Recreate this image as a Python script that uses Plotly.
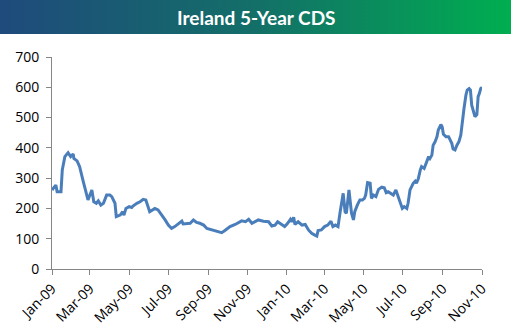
import plotly.graph_objects as go

dates = [
    "2009-01-01", "2009-01-07", "2009-01-09", "2009-01-15", "2009-01-17", "2009-01-21",
    "2009-01-26", "2009-01-30", "2009-02-03", "2009-02-04", "2009-02-09", "2009-02-13",
    "2009-02-18", "2009-02-26", "2009-03-04", "2009-03-07", "2009-03-11", "2009-03-14",
    "2009-03-18", "2009-03-22", "2009-03-27", "2009-04-01", "2009-04-04", "2009-04-09",
    "2009-04-11", "2009-04-17", "2009-04-21", "2009-04-23", "2009-04-26", "2009-05-01",
    "2009-05-05", "2009-05-07", "2009-05-13", "2009-05-18", "2009-05-23", "2009-05-27",
    "2009-06-02", "2009-06-10", "2009-06-15", "2009-06-21", "2009-06-26", "2009-07-01",
    "2009-07-06", "2009-07-11", "2009-07-17", "2009-07-22", "2009-07-24", "2009-07-30",
    "2009-08-04", "2009-08-09", "2009-08-14", "2009-08-19", "2009-08-25", "2009-08-30",
    "2009-09-04", "2009-09-09", "2009-09-17", "2009-09-22", "2009-09-27", "2009-10-05",
    "2009-10-13", "2009-10-18", "2009-10-23", "2009-10-29", "2009-11-03", "2009-11-08",
    "2009-11-13", "2009-11-18", "2009-11-26", "2009-12-04", "2009-12-09", "2009-12-14",
    "2009-12-18", "2009-12-22", "2009-12-29", "2010-01-02", "2010-01-07", "2010-01-09",
    "2010-01-12", "2010-01-14", "2010-01-19", "2010-01-25", "2010-01-30", "2010-02-04",
    "2010-02-09", "2010-02-14", "2010-02-17", "2010-02-19", "2010-02-24", "2010-03-01",
    "2010-03-06", "2010-03-11", "2010-03-14", "2010-03-18", "2010-03-22", "2010-03-25",
    "2010-03-30", "2010-04-02", "2010-04-04", "2010-04-08", "2010-04-12", "2010-04-15",
    "2010-04-17", "2010-04-21", "2010-04-25", "2010-04-29", "2010-05-02", "2010-05-04",
    "2010-05-07", "2010-05-11", "2010-05-13", "2010-05-16", "2010-05-20", "2010-05-24",
    "2010-05-29", "2010-06-02", "2010-06-05", "2010-06-08", "2010-06-12", "2010-06-16",
    "2010-06-20", "2010-06-23", "2010-06-27", "2010-06-30", "2010-07-03", "2010-07-07",
    "2010-07-09", "2010-07-12", "2010-07-17", "2010-07-20", "2010-07-22", "2010-07-25",
    "2010-07-28", "2010-07-30", "2010-08-03", "2010-08-06", "2010-08-10", "2010-08-12",
    "2010-08-15", "2010-08-17", "2010-08-20", "2010-08-23", "2010-08-25", "2010-08-29",
    "2010-08-31", "2010-09-02", "2010-09-06", "2010-09-10", "2010-09-12", "2010-09-15",
    "2010-09-17", "2010-09-20", "2010-09-23", "2010-09-26", "2010-09-29", "2010-10-01",
    "2010-10-04", "2010-10-07", "2010-10-09", "2010-10-12", "2010-10-14", "2010-10-16",
    "2010-10-19", "2010-10-21", "2010-10-24", "2010-10-26", "2010-10-28", "2010-10-30",
    "2010-11-01",
]

cds = [
    261, 277, 255, 255, 327, 371,
    384, 371, 380, 365, 357, 338,
    294, 228, 261, 222, 217, 225,
    211, 217, 244, 244, 239, 217,
    173, 178, 189, 178, 200, 206,
    203, 208, 217, 222, 230, 228,
    189, 200, 195, 178, 162, 145,
    134, 140, 149, 158, 149, 149,
    151, 162, 154, 151, 145, 134,
    131, 127, 123, 120, 127, 140,
    147, 153, 159, 156, 164, 151,
    156, 162, 158, 156, 142, 145,
    156, 151, 140, 149, 164, 156,
    171, 147, 156, 145, 147, 129,
    118, 112, 109, 127, 129, 140,
    145, 158, 140, 145, 140, 184,
    250, 189, 184, 261, 184, 162,
    189, 211, 228, 228, 233, 244,
    285, 283, 233, 244, 239, 263,
    270, 268, 252, 255, 248, 244,
    261, 244, 217, 200, 206, 200,
    217, 261, 283, 290, 283, 299,
    327, 338, 332, 349, 371, 365,
    376, 409, 420, 437, 459, 477,
    470, 445, 437, 437, 429, 415,
    396, 393, 409, 420, 442, 481,
    530, 574, 591, 596, 591, 541,
    519, 503, 510, 569, 580, 596,
    600,
]

title_text = "Ireland 5-Year CDS"
y_ticks = [0, 100, 200, 300, 400, 500, 600, 700]

gradient_svg = (
    "data:image/svg+xml;utf8,"
    "<svg xmlns='http://www.w3.org/2000/svg' width='511' height='34' preserveAspectRatio='none'>"
    "<defs><linearGradient id='g' x1='0' y1='0' x2='1' y2='0'>"
    "<stop offset='0' stop-color='%231F4A7C'/>"
    "<stop offset='0.5' stop-color='%23136F68'/>"
    "<stop offset='1' stop-color='%2300AE50'/>"
    "</linearGradient></defs>"
    "<rect width='511' height='34' fill='url(%23g)'/></svg>"
)

fig = go.Figure()
fig.add_trace(go.Scatter(
    x=dates, y=cds, mode="lines",
    line=dict(color="#4A7EBB", width=3),
    hoverinfo="x+y",
))

fig.update_layout(
    width=511, height=335,
    margin=dict(l=52, r=29, t=57, b=66),
    paper_bgcolor="white", plot_bgcolor="white",
    showlegend=False,
    font=dict(family="Open Sans, Arial, sans-serif", size=14, color="#000000"),
    images=[dict(
        source=gradient_svg, xref="paper", yref="paper",
        x=-52 / 430, y=1 + 57 / 212, sizex=511 / 430, sizey=34 / 212,
        xanchor="left", yanchor="top", sizing="stretch", layer="below",
    )],
    annotations=[dict(
        text="<b>" + title_text + "</b>", xref="paper", yref="paper",
        x=(256 - 52) / 430, y=1 + (57 - 17) / 212,
        xanchor="center", yanchor="middle", showarrow=False,
        font=dict(family="Lato, Open Sans, sans-serif", size=19, color="white"),
    )],
)

fig.update_xaxes(
    type="date",
    range=["2009-01-01", "2010-11-01"],
    tick0="2009-01-01", dtick="M2", tickformat="%b-%y",
    tickangle=-45,
    showgrid=False, zeroline=False,
    showline=True, linecolor="#868686", linewidth=1,
    ticks="outside", ticklen=5, tickcolor="#868686",
    automargin=False,
)
fig.update_yaxes(
    range=[0, 700], tickvals=y_ticks,
    showgrid=False, zeroline=False,
    showline=True, linecolor="#868686", linewidth=1,
    ticks="outside", ticklen=5, tickcolor="#868686",
    ticklabelstandoff=4, automargin=False,
)

fig.write_html("out.html")
